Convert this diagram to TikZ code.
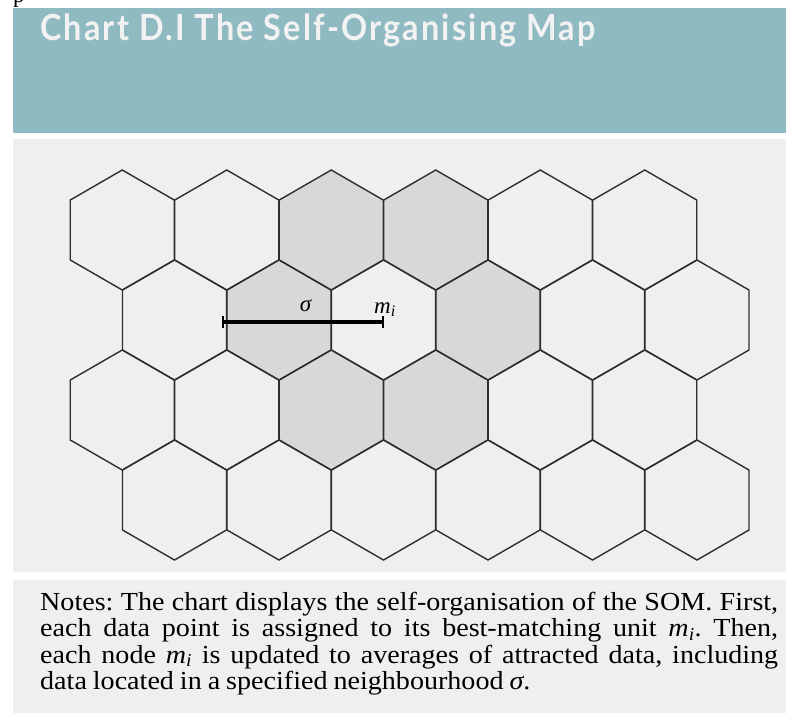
\documentclass[tikz,border=0pt]{standalone}
\usepackage{fontspec}
\setmainfont{Liberation Serif}
\newfontfamily\titlefont[LetterSpace=6,FakeStretch=0.9]{Lato}
\newfontfamily\notesfont[FakeStretch=1.08,WordSpace=0.85]{Liberation Serif}
\usetikzlibrary{arrows.meta}
\definecolor{hdr}{HTML}{8FBAC2}
\definecolor{panel}{HTML}{EFEFEF}
\definecolor{shade}{HTML}{D7D8D8}
\definecolor{ttl}{HTML}{F2F2F2}
\definecolor{hexline}{HTML}{2E2E2E}
\newcommand\subi{\textsubscript{\textit{i}}}
\tikzset{
  hexcell/.style={draw=hexline,line width=1.4pt,line join=miter},
  hexfill/.style={fill=shade},
  sigbar/.style={line width=4.5pt,{Bar[width=12pt,line width=2pt]}-{Bar[width=12pt,line width=2pt]}},
  lab/.style={inner sep=0pt,font=\fontsize{23}{26}\selectfont},
}
\begin{document}
\begin{tikzpicture}[x=1pt,y=-1pt]
\useasboundingbox (0,0) rectangle (786,715);
\fill[white] (0,0) rectangle (786,715);
\node[lab,anchor=base west] (frag) at (13,2) {p};
\fill[hdr] (13,8) rectangle (786,133);
\fill[panel] (13,139) rectangle (786,572);
\fill[panel] (13,580) rectangle (786,713);
\node[anchor=base west,inner sep=0pt,text=ttl,font=\titlefont\bfseries\fontsize{36}{40}\selectfont] (title) at (40,40) {Chart D.I The Self-Organising Map};
% hex centres
\foreach \r/\cy/\off in {1/230/122.25, 2/320/174.5, 3/410/122.25, 4/500/174.5}{
  \foreach \k in {0,...,5}{
    \coordinate (h\r\k) at ({\off+104.5*\k},\cy);
  }
}
\foreach \n in {h12,h13,h21,h23,h32,h33}{
  \fill[hexfill] (\n) +(90:60) -- +(30:60) -- +(-30:60) -- +(-90:60) -- +(-150:60) -- +(150:60) -- cycle;
}
\foreach \r in {1,...,4}{
  \foreach \k in {0,...,5}{
    \draw[hexcell] (h\r\k) +(90:60) -- +(30:60) -- +(-30:60) -- +(-90:60) -- +(-150:60) -- +(150:60) -- cycle;
  }
}
\coordinate (sigL) at (222,322);
\coordinate (sigR) at (383.5,322);
\draw[sigbar] (sigL) -- (sigR);
\node[lab] (sig) at (306,306) {\textit{σ}};
\node[lab,anchor=base west] (milab) at (374,313) {\textit{m}\subi};
\node[anchor=north west,inner sep=0pt,text width=738pt,align=justify,font=\notesfont\fontsize{26}{26.3}\selectfont\frenchspacing] (notes) at (40,592)
{Notes: The chart displays the self-organisation of the SOM. First,\linebreak each data point is assigned to its best-matching unit \textit{m}\subi. Then,\linebreak each node \textit{m}\subi{} is updated to averages of attracted data, including\linebreak data located in a specified neighbourhood \textit{σ}.};
\end{tikzpicture}
\end{document}
